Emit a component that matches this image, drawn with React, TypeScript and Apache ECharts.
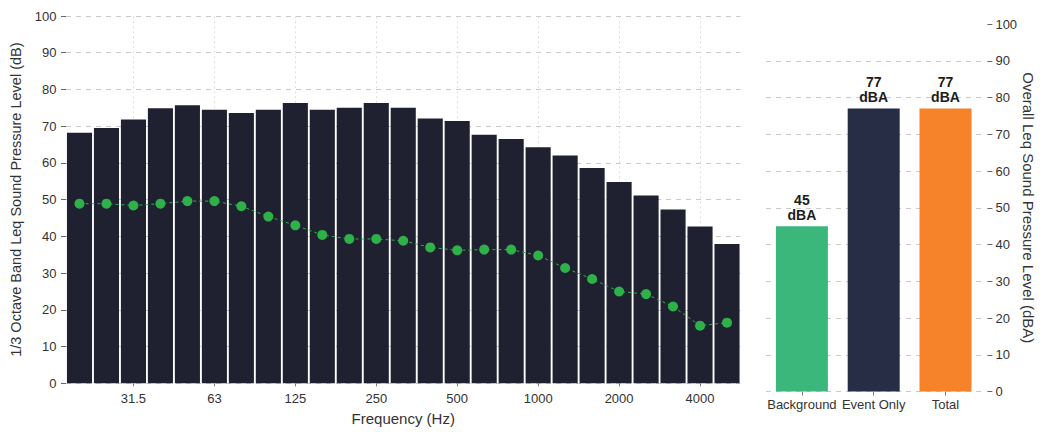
import React, { useEffect, useRef } from "react";
import * as echarts from "echarts";

// 1/3 octave band centre frequencies (Hz)
const frequencies = [
  "20", "25", "31.5", "40", "50", "63", "80", "100", "125", "160", "200", "250", "315",
  "400", "500", "630", "800", "1000", "1250", "1600", "2000", "2500", "3150", "4000", "5000",
];

// octave centres that carry a tick label
const octaveLabels = ["31.5", "63", "125", "250", "500", "1000", "2000", "4000"];

// event Leq per band (dB)
const eventBandLevels = [
  68.2, 69.5, 71.8, 74.9, 75.7, 74.5, 73.6, 74.5, 76.3, 74.5, 75.0, 76.3, 75.0,
  72.1, 71.4, 67.7, 66.5, 64.3, 62.0, 58.6, 54.8, 51.1, 47.3, 42.7, 37.9,
];

// background Leq per band (dB)
const backgroundBandLevels = [
  48.9, 48.9, 48.4, 48.9, 49.6, 49.6, 48.2, 45.4, 43.0, 40.4, 39.3, 39.3, 38.8,
  37.0, 36.2, 36.4, 36.4, 34.8, 31.4, 28.4, 25.0, 24.3, 20.9, 15.7, 16.5,
];

// overall A-weighted levels (dBA)
const overallCategories = ["Background", "Event Only", "Total"];
const overallLevels = [45, 77, 77];
const overallColors = ["#3bb77b", "#272d45", "#f6822a"];

const FONT = "Liberation Sans, Arial, sans-serif";

export default function App() {
  const ref = useRef<HTMLDivElement>(null);

  useEffect(() => {
    if (!ref.current) return;
    const chart = echarts.init(ref.current, null, { renderer: "svg" });

    const isOctave = (_i: number, v: string) => octaveLabels.includes(v);
    const gridLine = { show: true, lineStyle: { color: "#cacaca", type: [5, 5] as any, width: 1 } };

    chart.setOption({
      animation: false,
      textStyle: { fontFamily: FONT },
      grid: [
        { left: 65.5, top: 16, width: 675, height: 367.3 },
        { left: 766, top: 24, width: 215.4, height: 367.5 },
      ],
      xAxis: [
        {
          type: "category",
          gridIndex: 0,
          data: frequencies,
          axisLine: { show: false },
          axisTick: { show: true, interval: isOctave, alignWithLabel: true, length: 3, lineStyle: { color: "#777" } },
          axisLabel: { interval: isOctave, fontSize: 13, color: "#333", margin: 9, fontFamily: FONT },
          name: "Frequency (Hz)",
          nameLocation: "middle",
          nameGap: 28,
          nameTextStyle: { fontSize: 15, color: "#333", fontFamily: FONT },
        },
        {
          type: "category",
          gridIndex: 1,
          data: overallCategories,
          axisLine: { show: false },
          axisTick: { show: true, alignWithLabel: true, length: 4, lineStyle: { color: "#777" } },
          axisLabel: { interval: 0, hideOverlap: false, fontSize: 13, color: "#333", margin: 6, fontFamily: FONT },
        },
      ],
      yAxis: [
        {
          type: "value",
          gridIndex: 0,
          min: 0,
          max: 100,
          interval: 10,
          axisLine: { show: false },
          axisTick: { show: true, length: 5, lineStyle: { color: "#666" } },
          axisLabel: { fontSize: 13, color: "#333", margin: 9.5, fontFamily: FONT },
          splitLine: gridLine,
          name: "1/3 Octave Band Leq Sound Pressure Level (dB)",
          nameLocation: "middle",
          nameRotate: 90,
          nameGap: 43,
          nameTextStyle: { fontSize: 14.5, color: "#333", fontFamily: FONT },
        },
        {
          type: "value",
          gridIndex: 1,
          position: "right",
          offset: 6,
          min: 0,
          max: 100,
          interval: 10,
          axisLine: { show: false },
          axisTick: { show: true, length: 5, lineStyle: { color: "#666" } },
          axisLabel: { fontSize: 13, color: "#333", margin: 8, fontFamily: FONT },
          splitLine: { ...gridLine, showMaxLine: false },
          name: "Overall Leq Sound Pressure Level (dBA)",
          nameLocation: "middle",
          nameRotate: -90,
          nameGap: 34,
          nameTextStyle: { fontSize: 15, color: "#333", fontFamily: FONT },
        },
      ],
      series: [
        {
          name: "Event",
          type: "bar",
          xAxisIndex: 0,
          yAxisIndex: 0,
          data: eventBandLevels,
          barCategoryGap: "7%",
          z: 2,
          itemStyle: { color: "#1f2130" },
          markLine: {
            silent: true,
            symbol: "none",
            z: 1,
            label: { show: false },
            lineStyle: { color: "#dedede", type: [2, 3] as any, width: 1 },
            data: octaveLabels.map((f) => ({ xAxis: f })),
          },
        },
        {
          name: "Background",
          type: "line",
          xAxisIndex: 0,
          yAxisIndex: 0,
          data: backgroundBandLevels,
          z: 3,
          symbol: "circle",
          symbolSize: 10,
          itemStyle: { color: "#2fb14a" },
          lineStyle: { color: "#2fb14a", width: 1, type: [3, 3] as any },
        },
        {
          name: "Overall",
          type: "bar",
          xAxisIndex: 1,
          yAxisIndex: 1,
          barWidth: 52,
          data: overallLevels.map((v, i) => ({ value: v, itemStyle: { color: overallColors[i] } })),
          label: {
            show: true,
            position: "top",
            distance: 4,
            formatter: (p: any) => `${p.value}\ndBA`,
            fontSize: 14,
            fontWeight: "bold",
            lineHeight: 15,
            color: "#1c1c1c",
            fontFamily: FONT,
          },
        },
      ],
    });

    return () => chart.dispose();
  }, []);

  return (
    <div
      ref={ref}
      style={{ position: "absolute", left: 0, top: 0, width: 1052, height: 432, background: "#fff" }}
    />
  );
}
